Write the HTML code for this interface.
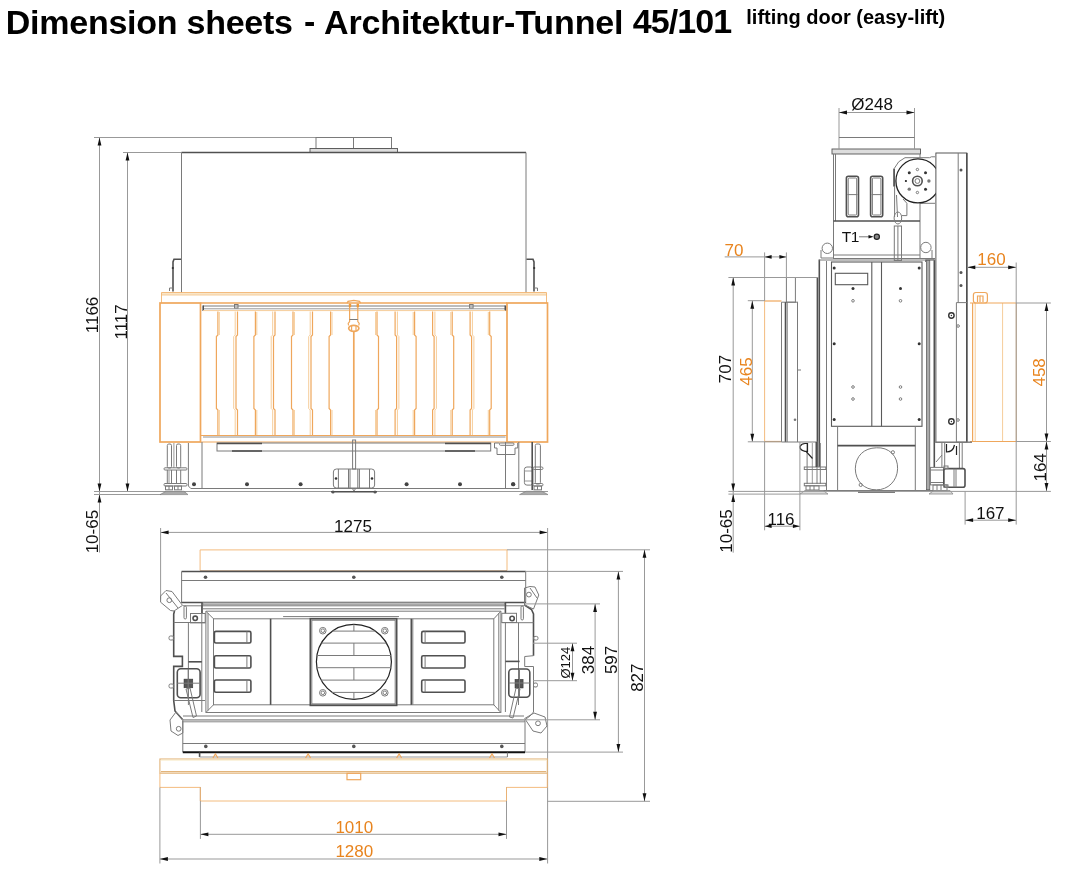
<!DOCTYPE html>
<html><head><meta charset="utf-8"><title>Dimension sheets</title>
<style>
html,body{margin:0;padding:0;background:#fff;}
body{width:1070px;height:879px;position:relative;overflow:hidden;font-family:"Liberation Sans",sans-serif;}
svg{position:absolute;left:0;top:0;will-change:transform;}
.o{fill:none;stroke:#7a7a7a;stroke-width:1;}
.p{fill:none;stroke:#5a5a5a;stroke-width:1.1;}
.mot{fill:#fff;stroke:#222;stroke-width:1.3;}
.scr{fill:#888;stroke:#222;stroke-width:1.2;}
.scr2{fill:#fff;stroke:#333;stroke-width:1.4;}
.wf{fill:#fff;stroke:#444;stroke-width:0.9;}
.t{fill:none;stroke:#505050;stroke-width:1.6;}
.t2{fill:none;stroke:#222;stroke-width:1.2;}
.t3{fill:none;stroke:#111;stroke-width:2;}
.d{fill:none;stroke:#999;stroke-width:1;}
.g{fill:#fff;stroke:#777;stroke-width:0.8;}
.fl{fill:#ddd;stroke:#555;stroke-width:0.9;}
.gf{fill:#bbb;stroke:#888;stroke-width:0.6;}
.gbar{fill:#aaa;stroke:#555;stroke-width:0.7;}
.gf2{fill:#eee;stroke:#aaa;stroke-width:0.6;}
.blk{fill:#555;stroke:#333;stroke-width:0.5;}
.ft{fill:#aaa;stroke:#777;stroke-width:0.6;}
.ft2{fill:#ddd;stroke:#888;stroke-width:0.8;}
.or{fill:none;stroke:#EFA75C;stroke-width:1.2;}
.or2{fill:none;stroke:#EFA75C;stroke-width:1.7;}
.or3{fill:none;stroke:#9a6a3a;stroke-width:1.2;}
.orl{fill:none;stroke:#F6CD9A;stroke-width:1;}
.orl2{fill:none;stroke:#F2B470;stroke-width:0.9;}
.ort{fill:none;stroke:#E2B47A;stroke-width:1.1;}
.ortf{fill:#F8ECC8;stroke:none;}
.orfill{fill:#EE9A3A;stroke:none;}
.orf{fill:#F9E6C8;stroke:none;}
text{font-family:"Liberation Sans",sans-serif;}
.tx{fill:#111;}
.tt{fill:#000;}
.tx2{font-size:15.5px;fill:#111;}
.txo{fill:#E8841E;}
</style></head>
<body>
<svg width="1070" height="879" viewBox="0 0 1070 879">
<text x="149.28" y="33.65" class="tt" font-size="34" text-anchor="middle" font-weight="bold" letter-spacing="-0.25">Dimension sheets</text>
<text x="309.7" y="33.4" class="tt" font-size="34" text-anchor="middle" font-weight="bold">-</text>
<text x="473.7" y="33.65" class="tt" font-size="34" text-anchor="middle" font-weight="bold" letter-spacing="-0.12">Architektur-Tunnel</text>
<text x="682" y="33.15" class="tt" font-size="34" text-anchor="middle" font-weight="bold" letter-spacing="-0.9">45/101</text>
<text x="845.75" y="24" class="tt" font-size="20" text-anchor="middle" font-weight="bold">lifting door (easy-lift)</text>
<line x1="94" y1="137.5" x2="316" y2="137.5" class="d"/>
<line x1="123" y1="152.5" x2="181.5" y2="152.5" class="d"/>
<line x1="99.5" y1="137.5" x2="99.5" y2="552.5" class="d"/>
<polygon points="99.5,137.5 97.6,145.5 101.4,145.5" fill="#111"/>
<polygon points="99.5,491.5 97.6,483.5 101.4,483.5" fill="#111"/>
<polygon points="99.5,494.5 97.6,502.5 101.4,502.5" fill="#111"/>
<line x1="127.5" y1="152.5" x2="127.5" y2="491.5" class="d"/>
<polygon points="127.5,152.5 125.6,160.5 129.4,160.5" fill="#111"/>
<polygon points="127.5,491.5 125.6,483.5 129.4,483.5" fill="#111"/>
<line x1="94" y1="491.5" x2="200" y2="491.5" class="d"/>
<line x1="94" y1="494.5" x2="161" y2="494.5" class="d"/>
<text x="0" y="0" class="tx" font-size="17" text-anchor="middle" transform="translate(98.2,314.95) rotate(-90)">1166</text>
<text x="0" y="0" class="tx" font-size="17" text-anchor="middle" transform="translate(127,321.9) rotate(-90)">1117</text>
<text x="0" y="0" class="tx" font-size="17" text-anchor="middle" transform="translate(98.2,531.6) rotate(-90)">10-65</text>
<rect x="316" y="137.5" width="75.5" height="11" class="o"/>
<line x1="353.5" y1="137.5" x2="353.5" y2="148.5" class="o"/>
<rect x="310" y="148.5" width="87.5" height="4" class="fl"/>
<line x1="181.5" y1="152.5" x2="526" y2="152.5" class="t"/>
<line x1="181.5" y1="152.5" x2="181.5" y2="292.5" class="o"/>
<line x1="526" y1="152.5" x2="526" y2="292.5" class="o"/>
<polyline points="181,259.3 174,259.3 173,262 173,291.5" class="t"/>
<polyline points="526.5,259.3 533,259.3 534,262 534,291.5" class="t"/>
<polyline points="173,288 169.5,288 169.5,291" class="o"/>
<polyline points="534,288 537.5,288 537.5,291" class="o"/>
<circle cx="172.8" cy="268" r="1.1" fill="#333"/>
<circle cx="534.2" cy="268" r="1.1" fill="#333"/>
<rect x="161.5" y="292.8" width="385" height="2.2" class="orf"/>
<line x1="161.5" y1="295" x2="546.5" y2="295" class="orl"/>
<line x1="161.5" y1="292.5" x2="546.5" y2="292.5" class="orl2"/>
<line x1="161.5" y1="292.5" x2="161.5" y2="303" class="orl2"/>
<line x1="546.5" y1="292.5" x2="546.5" y2="303" class="orl2"/>
<rect x="160" y="303" width="40.5" height="139" class="or2"/>
<rect x="507" y="303" width="40.5" height="139" class="or2"/>
<line x1="200.5" y1="303" x2="507" y2="303" class="or2"/>
<line x1="203" y1="306" x2="505.5" y2="306" class="o"/>
<line x1="203" y1="308.8" x2="505.5" y2="308.8" class="d"/>
<line x1="203.2" y1="305.5" x2="203.2" y2="311" class="t"/>
<line x1="505.3" y1="305.5" x2="505.3" y2="311" class="t"/>
<rect x="234.5" y="304.5" width="3.5" height="3.5" class="o"/>
<rect x="469.6" y="304.5" width="3.5" height="3.5" class="o"/>
<line x1="203" y1="310.6" x2="505.5" y2="310.6" class="orl"/>
<line x1="200.5" y1="435.5" x2="507" y2="435.5" class="or"/>
<line x1="203" y1="437" x2="505.5" y2="437" class="g"/>
<line x1="200.5" y1="442" x2="507" y2="442" class="or"/>
<polyline points="217.9,311.5 217.9,335 216.4,336.5 216.4,408.5 217.9,410 217.9,435" class="or"/>
<line x1="219.3" y1="312" x2="219.3" y2="335" class="orl"/>
<line x1="219.3" y1="410" x2="219.3" y2="435" class="orl"/>
<polyline points="489.7,311.5 489.7,335 491.2,336.5 491.2,408.5 489.7,410 489.7,435" class="or"/>
<line x1="488.3" y1="312" x2="488.3" y2="335" class="orl"/>
<line x1="488.3" y1="410" x2="488.3" y2="435" class="orl"/>
<polyline points="255.4,311.5 255.4,335 253.9,336.5 253.9,408.5 255.4,410 255.4,435" class="or"/>
<line x1="256.8" y1="312" x2="256.8" y2="335" class="orl"/>
<line x1="256.8" y1="410" x2="256.8" y2="435" class="orl"/>
<polyline points="452.2,311.5 452.2,335 453.7,336.5 453.7,408.5 452.2,410 452.2,435" class="or"/>
<line x1="450.8" y1="312" x2="450.8" y2="335" class="orl"/>
<line x1="450.8" y1="410" x2="450.8" y2="435" class="orl"/>
<polyline points="293,311.5 293,335 291.5,336.5 291.5,408.5 293,410 293,435" class="or"/>
<line x1="294.4" y1="312" x2="294.4" y2="335" class="orl"/>
<line x1="294.4" y1="410" x2="294.4" y2="435" class="orl"/>
<polyline points="414.6,311.5 414.6,335 416.1,336.5 416.1,408.5 414.6,410 414.6,435" class="or"/>
<line x1="413.2" y1="312" x2="413.2" y2="335" class="orl"/>
<line x1="413.2" y1="410" x2="413.2" y2="435" class="orl"/>
<polyline points="330.6,311.5 330.6,335 329.1,336.5 329.1,408.5 330.6,410 330.6,435" class="or"/>
<line x1="332" y1="312" x2="332" y2="335" class="orl"/>
<line x1="332" y1="410" x2="332" y2="435" class="orl"/>
<polyline points="377,311.5 377,335 378.5,336.5 378.5,408.5 377,410 377,435" class="or"/>
<line x1="375.6" y1="312" x2="375.6" y2="335" class="orl"/>
<line x1="375.6" y1="410" x2="375.6" y2="435" class="orl"/>
<polyline points="237.5,311.5 237.5,335 236,336.5 236,408.5 237.5,410 237.5,435" class="or"/>
<polyline points="235.2,311.5 235.2,335 233.7,336.5 233.7,408.5 235.2,410 235.2,435" class="orl"/>
<polyline points="470.1,311.5 470.1,335 471.6,336.5 471.6,408.5 470.1,410 470.1,435" class="or"/>
<polyline points="472.4,311.5 472.4,335 473.9,336.5 473.9,408.5 472.4,410 472.4,435" class="orl"/>
<polyline points="275,311.5 275,335 273.5,336.5 273.5,408.5 275,410 275,435" class="or"/>
<polyline points="272.7,311.5 272.7,335 271.2,336.5 271.2,408.5 272.7,410 272.7,435" class="orl"/>
<polyline points="432.6,311.5 432.6,335 434.1,336.5 434.1,408.5 432.6,410 432.6,435" class="or"/>
<polyline points="434.9,311.5 434.9,335 436.4,336.5 436.4,408.5 434.9,410 434.9,435" class="orl"/>
<polyline points="312.5,311.5 312.5,335 311,336.5 311,408.5 312.5,410 312.5,435" class="or"/>
<polyline points="310.2,311.5 310.2,335 308.7,336.5 308.7,408.5 310.2,410 310.2,435" class="orl"/>
<polyline points="395.1,311.5 395.1,335 396.6,336.5 396.6,408.5 395.1,410 395.1,435" class="or"/>
<polyline points="397.4,311.5 397.4,335 398.9,336.5 398.9,408.5 397.4,410 397.4,435" class="orl"/>
<line x1="353.8" y1="331" x2="353.8" y2="435.5" class="or2"/>
<polyline points="349.6,303.5 349.6,321.5 348.2,323.5 348.6,325.5" class="or"/>
<polyline points="357.8,303.5 357.8,321.5 359.2,323.5 358.8,325.5" class="or"/>
<line x1="349.6" y1="319.5" x2="357.8" y2="319.5" class="o"/>
<rect x="348.8" y="303.8" width="2.4" height="3.4" class="orfill"/>
<rect x="356.6" y="303.8" width="2.4" height="3.4" class="orfill"/>
<ellipse cx="353.8" cy="328.3" rx="5.1" ry="3.0" class="or2"/>
<line x1="351.6" y1="326" x2="351.6" y2="330.6" class="or"/>
<line x1="356" y1="326" x2="356" y2="330.6" class="or"/>
<polyline points="347,303.2 348,301.3 353.8,300.3 359.6,301.3 360.6,303.2" class="or"/>
<rect x="217" y="443" width="273.7" height="8" class="o"/>
<line x1="217" y1="443.5" x2="262" y2="443.5" class="t"/>
<line x1="445" y1="443.5" x2="490.7" y2="443.5" class="t"/>
<line x1="232" y1="451" x2="262" y2="451" class="t"/>
<line x1="445" y1="451" x2="475" y2="451" class="t"/>
<line x1="202" y1="442" x2="202" y2="489" class="o"/>
<line x1="505.5" y1="442" x2="505.5" y2="489" class="o"/>
<line x1="518.8" y1="442" x2="518.8" y2="489" class="o"/>
<polyline points="494.5,443 494.5,448 497,448 497,454.5 515,454.5 515,448 517.7,448 517.7,443" class="o"/>
<line x1="202" y1="488.5" x2="519" y2="488.5" class="o"/>
<line x1="160" y1="491.5" x2="548" y2="491.5" class="d"/>
<circle cx="194" cy="484.3" r="2" fill="#444"/>
<circle cx="247" cy="484.3" r="2" fill="#444"/>
<circle cx="300.6" cy="484.3" r="2" fill="#444"/>
<circle cx="406.6" cy="484.3" r="2" fill="#444"/>
<circle cx="460" cy="484.3" r="2" fill="#444"/>
<circle cx="513" cy="484.3" r="2" fill="#444"/>
<rect x="352.6" y="440" width="3" height="29" class="o"/>
<rect x="333.4" y="469" width="41.2" height="19" class="o" rx="3"/>
<line x1="338.4" y1="469" x2="338.4" y2="488" class="o"/>
<line x1="348.5" y1="469" x2="348.5" y2="488" class="o"/>
<line x1="350" y1="469" x2="350" y2="488" class="o"/>
<line x1="357.8" y1="469" x2="357.8" y2="488" class="o"/>
<line x1="359.4" y1="469" x2="359.4" y2="488" class="o"/>
<line x1="369.5" y1="469" x2="369.5" y2="488" class="o"/>
<circle cx="336" cy="478.5" r="1.3" fill="#333"/>
<circle cx="372" cy="478.5" r="1.3" fill="#333"/>
<line x1="331" y1="491.8" x2="377" y2="491.8" class="t"/>
<circle cx="333" cy="492" r="1.5" fill="#555"/>
<circle cx="375" cy="492" r="1.5" fill="#555"/>
<polyline points="352,488 354,491 356,488" class="o"/>
<rect x="167.3" y="444" width="4.2" height="24" class="o" rx="1.5"/>
<rect x="176.5" y="444" width="4.2" height="24" class="o" rx="1.5"/>
<line x1="173.9" y1="443" x2="173.9" y2="468" class="d"/>
<line x1="167.3" y1="470" x2="167.3" y2="483.3" class="o"/>
<line x1="171.5" y1="470" x2="171.5" y2="483.3" class="o"/>
<line x1="176.5" y1="470" x2="176.5" y2="483.3" class="o"/>
<line x1="180.7" y1="470" x2="180.7" y2="483.3" class="o"/>
<line x1="169" y1="470.5" x2="169" y2="483" class="d"/>
<rect x="164" y="467.8" width="23" height="2.2" class="o" rx="1"/>
<rect x="164" y="483.5" width="23" height="2.5" class="o" rx="1"/>
<rect x="165.5" y="486" width="7" height="3.8" class="o"/>
<rect x="174.5" y="486" width="7" height="3.8" class="o"/>
<line x1="169" y1="486" x2="169" y2="489.8" class="o"/>
<line x1="178" y1="486" x2="178" y2="489.8" class="o"/>
<polygon points="160,494.6 166,491.3 184,491.3 188,494.6" class="ft"/>
<polyline points="188.4,443 188.4,486 190.8,488.5 202,488.5" class="o"/>
<polyline points="494.5,443 499.5,443" class="o"/>
<rect x="499.5" y="443" width="14.5" height="2.3" class="o" rx="1"/>
<rect x="524.4" y="467" width="8.6" height="18.1" class="o" rx="2.5"/>
<line x1="524.4" y1="471" x2="533" y2="471" class="d"/>
<line x1="524.4" y1="481" x2="533" y2="481" class="d"/>
<line x1="532.2" y1="442" x2="532.2" y2="490" class="t"/>
<rect x="535.3" y="444" width="5.1" height="40" class="o" rx="1.5"/>
<rect x="533" y="467" width="10" height="2.5" class="o" rx="1.2"/>
<rect x="533" y="483.5" width="10" height="2.5" class="o" rx="1.2"/>
<rect x="534" y="486" width="7.5" height="3.8" class="o"/>
<line x1="537.5" y1="486" x2="537.5" y2="489.8" class="o"/>
<polygon points="519.5,494.6 526,491.3 542,491.3 548,494.6" class="ft"/>
<circle cx="513.3" cy="484.3" r="2" fill="#444"/>
<line x1="839" y1="108" x2="839" y2="148.5" class="d"/>
<line x1="914.5" y1="108" x2="914.5" y2="148.5" class="d"/>
<line x1="839" y1="112.5" x2="914.5" y2="112.5" class="d"/>
<polygon points="839,112.5 847,110.6 847,114.4" fill="#111"/>
<polygon points="914.5,112.5 906.5,110.6 906.5,114.4" fill="#111"/>
<text x="872.15" y="110.1" class="tx" font-size="17" text-anchor="middle">Ø248</text>
<line x1="839" y1="137.5" x2="914.5" y2="137.5" class="o"/>
<rect x="832" y="149" width="88.5" height="5" class="fl"/>
<line x1="833.5" y1="154" x2="833.5" y2="259" class="o"/>
<line x1="835.5" y1="154" x2="835.5" y2="221" class="o"/>
<line x1="920" y1="154" x2="920" y2="158" class="o"/>
<line x1="920" y1="203" x2="920" y2="259" class="o"/>
<line x1="833.5" y1="221" x2="920" y2="221" class="t"/>
<line x1="833.5" y1="255" x2="920" y2="255" class="o"/>
<line x1="833.5" y1="258.5" x2="935" y2="258.5" class="o"/>
<rect x="846.4" y="176.3" width="12.1" height="40.4" class="t" rx="2"/>
<rect x="848.2" y="178" width="8.5" height="37" class="o" rx="1"/>
<line x1="847.4" y1="194.6" x2="857.5" y2="194.6" class="o"/>
<rect x="870.6" y="176.3" width="12.1" height="40.4" class="t" rx="2"/>
<rect x="872.4" y="178" width="8.5" height="37" class="o" rx="1"/>
<line x1="871.6" y1="194.6" x2="881.7" y2="194.6" class="o"/>
<polyline points="894.1,186.4 894.1,168.7 898.7,161.8 905,157.7 929.6,157.7 931.4,156.8 935,156.8" class="o"/>
<line x1="894.1" y1="168.7" x2="894.1" y2="186.4" class="t"/>
<line x1="894.6" y1="186" x2="894.6" y2="217" class="o"/>
<line x1="896.5" y1="195" x2="897.5" y2="217" class="o"/>
<polyline points="903,199 906.9,203.3 906.9,215.6 901.5,215.6" class="o"/>
<line x1="920" y1="203.3" x2="935" y2="203.3" class="o"/>
<circle cx="917.9" cy="180.9" r="22" class="mot"/>
<circle cx="917.4" cy="181" r="4.8" class="t"/>
<circle cx="917.4" cy="181" r="2.4" class="o"/>
<circle cx="928.9" cy="181" r="1.7" fill="#777"/>
<circle cx="925.53" cy="189.13" r="1.5" fill="#333"/>
<circle cx="917.4" cy="192.5" r="1.2" class="o"/>
<circle cx="909.27" cy="189.13" r="1.7" fill="#777"/>
<circle cx="905.9" cy="181" r="1.1" fill="#222"/>
<circle cx="909.27" cy="172.87" r="1.5" fill="#333"/>
<circle cx="917.4" cy="169.5" r="1.2" class="o"/>
<circle cx="925.53" cy="172.87" r="1.5" fill="#333"/>
<text x="850.3" y="241.6" class="tx" font-size="15.5" text-anchor="middle" letter-spacing="-0.6">T1</text>
<line x1="859" y1="236.8" x2="870" y2="236.8" class="o"/>
<polygon points="873.5,236.8 868.5,235 868.5,238.6" fill="#111"/>
<circle cx="876.8" cy="236.8" r="2.6" class="scr"/>
<rect x="894.3" y="226" width="7.2" height="34.5" class="o"/>
<line x1="897.9" y1="226" x2="897.9" y2="260.5" class="o"/>
<ellipse cx="897.9" cy="218" rx="3.8" ry="6" class="o"/>
<circle cx="827.3" cy="248.3" r="5.2" class="o"/>
<polyline points="821,250 821,258 833,258" class="o"/>
<circle cx="925.9" cy="247.5" r="5.2" class="o"/>
<polyline points="932,250 932,258" class="o"/>
<rect x="935.9" y="153" width="30.9" height="289.2" class="wf"/>
<line x1="934.3" y1="259.6" x2="934.3" y2="467" class="t"/>
<line x1="966.8" y1="153" x2="966.8" y2="442.2" class="t"/>
<line x1="958.2" y1="153" x2="958.2" y2="302.5" class="o"/>
<circle cx="961" cy="170" r="1.5" fill="#555"/>
<circle cx="961" cy="272.4" r="1.5" fill="#555"/>
<circle cx="961" cy="285.4" r="1.5" fill="#555"/>
<line x1="817.4" y1="277" x2="817.4" y2="467" class="t"/>
<line x1="819.3" y1="259.5" x2="819.3" y2="467" class="t"/>
<line x1="826.5" y1="261" x2="826.5" y2="491" class="o"/>
<line x1="819.3" y1="260" x2="934.8" y2="260" class="o"/>
<rect x="926.4" y="260.5" width="3.4" height="229.2" class="gbar"/>
<polyline points="925.5,262 925.5,259.8 934,259.8" class="o"/>
<rect x="831.5" y="262" width="90.5" height="164.3" class="p"/>
<line x1="871.8" y1="262" x2="871.8" y2="426.3" class="p"/>
<line x1="881.5" y1="262" x2="881.5" y2="426.3" class="p"/>
<rect x="835.3" y="273.3" width="32.4" height="11.4" class="p"/>
<circle cx="834.2" cy="268" r="1.5" fill="#333"/>
<circle cx="919.2" cy="268" r="1.5" fill="#333"/>
<circle cx="853" cy="288.6" r="1.5" fill="#333"/>
<circle cx="900.5" cy="288.6" r="1.5" fill="#333"/>
<circle cx="834.2" cy="343.8" r="1.5" fill="#333"/>
<circle cx="919.2" cy="343.8" r="1.5" fill="#333"/>
<circle cx="834.2" cy="419.5" r="1.5" fill="#333"/>
<circle cx="919.2" cy="419.5" r="1.5" fill="#333"/>
<circle cx="853" cy="300.8" r="1.3" class="o"/>
<circle cx="900.5" cy="300.8" r="1.3" class="o"/>
<circle cx="853" cy="387" r="1.3" class="o"/>
<circle cx="900.5" cy="387" r="1.3" class="o"/>
<circle cx="853" cy="399" r="1.3" class="o"/>
<circle cx="900.5" cy="399" r="1.3" class="o"/>
<line x1="837.6" y1="426.3" x2="837.6" y2="491" class="o"/>
<line x1="915.3" y1="426.3" x2="915.3" y2="491" class="o"/>
<line x1="837.6" y1="445.6" x2="915.3" y2="445.6" class="t"/>
<path d="M876.4,447.8 C889,447 898,456 897.6,468.8 C897.2,481 888,490 876.4,489.8 C864,490 855.5,481 855.3,468.8 C855.5,456 864,448 876.4,447.8 Z" class="o"/>
<circle cx="892.9" cy="452.3" r="1.6" class="o"/>
<circle cx="860.7" cy="484.9" r="1.6" class="o"/>
<line x1="819" y1="490.5" x2="935" y2="490.5" class="o"/>
<line x1="858" y1="492" x2="895" y2="492" class="t"/>
<line x1="764.6" y1="301" x2="764.6" y2="441.8" class="orl2"/>
<line x1="764.6" y1="301" x2="781.5" y2="301" class="or"/>
<line x1="764.6" y1="441.5" x2="781.5" y2="441.5" class="or"/>
<rect x="786.4" y="277.5" width="9" height="24.7" class="o"/>
<line x1="781.5" y1="302.2" x2="798" y2="302.2" class="o"/>
<line x1="781.5" y1="302.2" x2="781.5" y2="442" class="o"/>
<line x1="785.5" y1="302.2" x2="785.5" y2="442" class="t"/>
<line x1="787.2" y1="302.2" x2="787.2" y2="442" class="o"/>
<line x1="797.5" y1="302.2" x2="797.5" y2="442" class="o"/>
<line x1="781.5" y1="442" x2="818" y2="442" class="o"/>
<circle cx="795" cy="419.7" r="1.3" fill="#777"/>
<line x1="797.5" y1="370" x2="801" y2="370" class="o"/>
<line x1="807.1" y1="443" x2="807.1" y2="484" class="o"/>
<line x1="817" y1="443" x2="817" y2="484" class="o"/>
<line x1="820.3" y1="443" x2="820.3" y2="484" class="o"/>
<line x1="812.3" y1="443" x2="812.3" y2="484" class="d"/>
<rect x="804.3" y="467" width="21.5" height="2.5" class="o"/>
<rect x="804.3" y="483.3" width="21.5" height="2.5" class="o"/>
<rect x="806" y="485.8" width="13" height="4.2" class="o"/>
<line x1="810" y1="485.8" x2="810" y2="490" class="o"/>
<line x1="814" y1="485.8" x2="814" y2="490" class="o"/>
<polygon points="800,494 805,490.5 823,490.5 828,494" class="ft2"/>
<path d="M807.5,443.5 L807.5,451.3 L805,451.3 Q799.5,450 800,446.5 Q801.5,443.5 805,443.5 Z M806,451.3 L812.5,458.5" class="t2"/>
<line x1="816.3" y1="442" x2="816.3" y2="467" class="t"/>
<line x1="972.6" y1="303" x2="972.6" y2="441.5" class="or"/>
<line x1="975.2" y1="303" x2="975.2" y2="441.5" class="orl"/>
<line x1="1002.6" y1="303" x2="1002.6" y2="441.5" class="orl"/>
<line x1="1016.3" y1="303" x2="1016.3" y2="441.5" class="orl2"/>
<line x1="970" y1="303" x2="1016.3" y2="303" class="or"/>
<line x1="970" y1="441.5" x2="1016.3" y2="441.5" class="or"/>
<rect x="973.4" y="292.5" width="14" height="10.5" class="or" rx="2.5"/>
<polyline points="977.5,302 977.5,296 980,296 980,302" class="or"/>
<polyline points="980,296 983,296 983,302" class="or"/>
<line x1="956.4" y1="302.6" x2="956.4" y2="442.2" class="o"/>
<line x1="956.4" y1="302.6" x2="967.3" y2="302.6" class="o"/>
<line x1="956.4" y1="442.2" x2="972" y2="442.2" class="o"/>
<circle cx="951.4" cy="315.5" r="2.7" class="scr2"/>
<circle cx="951.4" cy="315.5" r="0.7" fill="#333"/>
<circle cx="951.4" cy="421.5" r="2.7" class="scr2"/>
<circle cx="951.4" cy="421.5" r="0.7" fill="#333"/>
<circle cx="958.1" cy="326" r="1.3" class="o"/>
<circle cx="958" cy="420" r="1.3" class="o"/>
<line x1="934.7" y1="442.2" x2="972" y2="442.2" class="o"/>
<line x1="941.9" y1="442.2" x2="941.9" y2="468" class="o"/>
<line x1="944.7" y1="442.2" x2="944.7" y2="468" class="o"/>
<line x1="959.4" y1="442.2" x2="959.4" y2="468" class="o"/>
<line x1="962.2" y1="442.2" x2="962.2" y2="468" class="o"/>
<rect x="930.4" y="467.4" width="13.1" height="17.5" class="o"/>
<line x1="930.4" y1="470" x2="943.5" y2="470" class="o"/>
<line x1="930.4" y1="482.5" x2="943.5" y2="482.5" class="o"/>
<rect x="943.9" y="468.6" width="21.1" height="18.7" class="t" rx="2"/>
<line x1="954" y1="468.6" x2="954" y2="487.3" class="o"/>
<line x1="956" y1="468.6" x2="956" y2="487.3" class="o"/>
<rect x="944" y="466" width="4" height="2.6" class="o"/>
<rect x="944" y="484.9" width="4" height="2.6" class="o"/>
<rect x="933" y="485" width="14" height="5.5" class="o"/>
<line x1="937" y1="485" x2="937" y2="490.5" class="o"/>
<line x1="941" y1="485" x2="941" y2="490.5" class="o"/>
<polygon points="929,494 934,490.5 950,490.5 953,494" class="ft2"/>
<path d="M946.5,444 L946.5,452 Q953,452 954.5,445" class="t2"/>
<line x1="956.5" y1="446" x2="956.5" y2="455" class="t2"/>
<line x1="936" y1="462" x2="942" y2="455" class="o"/>
<text x="734.05" y="256" class="txo" font-size="17" text-anchor="middle">70</text>
<line x1="724.7" y1="256.9" x2="786.4" y2="256.9" class="d"/>
<polygon points="764.6,256.9 771.6,255 771.6,258.8" fill="#111"/>
<polygon points="786.4,256.9 779.4,255 779.4,258.8" fill="#111"/>
<line x1="764.6" y1="252.4" x2="764.6" y2="301" class="d"/>
<line x1="786.4" y1="252.4" x2="786.4" y2="277.5" class="d"/>
<line x1="728.4" y1="277.5" x2="818" y2="277.5" class="d"/>
<line x1="733.2" y1="277.5" x2="733.2" y2="552.7" class="d"/>
<polygon points="733.2,277.5 731.3,285.5 735.1,285.5" fill="#111"/>
<polygon points="733.2,491.4 731.3,483.4 735.1,483.4" fill="#111"/>
<polygon points="733.2,494.1 731.3,502.1 735.1,502.1" fill="#111"/>
<text x="0" y="0" class="tx" font-size="17" text-anchor="middle" transform="translate(731.3,369.05) rotate(-90)">707</text>
<line x1="747.8" y1="300.7" x2="764.6" y2="300.7" class="d"/>
<line x1="752.3" y1="300.7" x2="752.3" y2="441.8" class="d"/>
<polygon points="752.3,300.7 750.4,308.7 754.2,308.7" fill="#111"/>
<polygon points="752.3,441.8 750.4,433.8 754.2,433.8" fill="#111"/>
<line x1="747.8" y1="441.8" x2="781.5" y2="441.8" class="d"/>
<text x="0" y="0" class="txo" font-size="17" text-anchor="middle" transform="translate(751.5,371.5) rotate(-90)">465</text>
<line x1="728.4" y1="491.4" x2="1050.9" y2="491.4" class="d"/>
<line x1="728.4" y1="494.1" x2="800" y2="494.1" class="d"/>
<text x="0" y="0" class="tx" font-size="17" text-anchor="middle" transform="translate(731.6,531) rotate(-90)">10-65</text>
<line x1="764.6" y1="441.8" x2="764.6" y2="530.3" class="d"/>
<line x1="799.9" y1="442" x2="799.9" y2="530.3" class="d"/>
<line x1="764.6" y1="526.2" x2="799.9" y2="526.2" class="d"/>
<polygon points="764.6,526.2 771.6,524.3 771.6,528.1" fill="#111"/>
<polygon points="799.9,526.2 792.9,524.3 792.9,528.1" fill="#111"/>
<text x="781" y="525.3" class="tx" font-size="17" text-anchor="middle">116</text>
<text x="991.45" y="265.3" class="txo" font-size="17" text-anchor="middle">160</text>
<line x1="967.3" y1="267.3" x2="1016.2" y2="267.3" class="d"/>
<polygon points="967.3,267.3 975.3,265.4 975.3,269.2" fill="#111"/>
<polygon points="1016.2,267.3 1008.2,265.4 1008.2,269.2" fill="#111"/>
<line x1="1016.2" y1="262.5" x2="1016.2" y2="524.6" class="d"/>
<line x1="1016" y1="303" x2="1050.9" y2="303" class="d"/>
<line x1="1016" y1="441.5" x2="1050.9" y2="441.5" class="d"/>
<line x1="1046.5" y1="303" x2="1046.5" y2="491.1" class="d"/>
<polygon points="1046.5,303 1044.6,311 1048.4,311" fill="#111"/>
<polygon points="1046.5,441.5 1044.6,433.5 1048.4,433.5" fill="#111"/>
<polygon points="1046.5,441.5 1044.6,449.5 1048.4,449.5" fill="#111"/>
<polygon points="1046.5,491.1 1044.6,483.1 1048.4,483.1" fill="#111"/>
<text x="0" y="0" class="txo" font-size="17" text-anchor="middle" transform="translate(1045.1,372.35) rotate(-90)">458</text>
<text x="0" y="0" class="tx" font-size="17" text-anchor="middle" transform="translate(1045.5,467.35) rotate(-90)">164</text>
<line x1="965.1" y1="491" x2="965.1" y2="524.6" class="d"/>
<line x1="965.1" y1="520.2" x2="1016.2" y2="520.2" class="d"/>
<polygon points="965.1,520.2 973.1,518.3 973.1,522.1" fill="#111"/>
<polygon points="1016.2,520.2 1008.2,518.3 1008.2,522.1" fill="#111"/>
<text x="990.4" y="519.3" class="tx" font-size="17" text-anchor="middle">167</text>
<line x1="160.6" y1="532.4" x2="547.6" y2="532.4" class="d"/>
<polygon points="160.6,532.4 168.6,530.5 168.6,534.3" fill="#111"/>
<polygon points="547.6,532.4 539.6,530.5 539.6,534.3" fill="#111"/>
<line x1="160.6" y1="528" x2="160.6" y2="599.5" class="d"/>
<line x1="547.6" y1="528" x2="547.6" y2="863.5" class="d"/>
<text x="352.95" y="531.7" class="tx" font-size="17" text-anchor="middle">1275</text>
<polyline points="200.1,570.5 200.1,549.9 507,549.9 507,570.5" class="orl2"/>
<line x1="200.1" y1="571" x2="507" y2="571" class="or3"/>
<line x1="181.6" y1="571.5" x2="525.7" y2="571.5" class="t"/>
<line x1="181.6" y1="571.5" x2="181.6" y2="603" class="o"/>
<line x1="525.7" y1="571.5" x2="525.7" y2="603" class="o"/>
<line x1="181.6" y1="580.5" x2="525.7" y2="580.5" class="o"/>
<circle cx="205.5" cy="577.3" r="1.8" fill="#555"/>
<circle cx="353.8" cy="577.3" r="1.8" fill="#555"/>
<circle cx="501.8" cy="577.3" r="1.8" fill="#555"/>
<line x1="181.6" y1="602.5" x2="525.7" y2="602.5" class="t"/>
<rect x="203" y="602.5" width="301.4" height="2.3" class="gf"/>
<line x1="183" y1="605.8" x2="524" y2="605.8" class="o"/>
<line x1="203" y1="608.8" x2="504.5" y2="608.8" class="o"/>
<polyline points="205.9,712.5 205.9,611.2 500.9,611.2 500.9,712.5" class="o"/>
<line x1="205.9" y1="712.5" x2="500.9" y2="712.5" class="o"/>
<rect x="213.5" y="618.8" width="280.3" height="86" class="o"/>
<line x1="205.9" y1="611.2" x2="213.5" y2="618.8" class="o"/>
<line x1="500.9" y1="611.2" x2="493.8" y2="618.8" class="o"/>
<line x1="205.9" y1="712.5" x2="213.5" y2="704.8" class="o"/>
<line x1="500.9" y1="712.5" x2="493.8" y2="704.8" class="o"/>
<line x1="208" y1="613" x2="208" y2="710.5" class="o"/>
<line x1="498.8" y1="613" x2="498.8" y2="710.5" class="o"/>
<line x1="270.6" y1="618.8" x2="270.6" y2="704.8" class="t"/>
<line x1="283.1" y1="616.6" x2="399" y2="616.6" class="o"/>
<line x1="411.3" y1="618.8" x2="411.3" y2="704.8" class="t"/>
<line x1="412.8" y1="618.8" x2="412.8" y2="704.8" class="o"/>
<rect x="310.3" y="618.7" width="86.4" height="86.7" class="t"/>
<rect x="311.8" y="620.2" width="83.4" height="83.7" class="o"/>
<circle cx="353.9" cy="661.8" r="37.5" class="t2"/>
<line x1="332.36" y1="631.1" x2="375.44" y2="631.1" class="o"/>
<line x1="321.4" y1="643.1" x2="386.4" y2="643.1" class="o"/>
<line x1="316.93" y1="655.5" x2="390.87" y2="655.5" class="o"/>
<line x1="316.87" y1="667.7" x2="390.93" y2="667.7" class="o"/>
<line x1="321.17" y1="680.1" x2="386.63" y2="680.1" class="o"/>
<line x1="332.22" y1="692.4" x2="375.58" y2="692.4" class="o"/>
<line x1="353.9" y1="624.3" x2="353.9" y2="631.1" class="o"/>
<line x1="353.9" y1="643.1" x2="353.9" y2="655.5" class="o"/>
<line x1="353.9" y1="667.7" x2="353.9" y2="680.1" class="o"/>
<line x1="353.9" y1="692.4" x2="353.9" y2="699.3" class="o"/>
<circle cx="322.8" cy="630.7" r="3.3" class="o"/>
<circle cx="322.8" cy="630.7" r="1.8" class="o"/>
<circle cx="384.8" cy="630.7" r="3.3" class="o"/>
<circle cx="384.8" cy="630.7" r="1.8" class="o"/>
<circle cx="322.8" cy="692.8" r="3.3" class="o"/>
<circle cx="322.8" cy="692.8" r="1.8" class="o"/>
<circle cx="384.8" cy="692.8" r="3.3" class="o"/>
<circle cx="384.8" cy="692.8" r="1.8" class="o"/>
<rect x="214.4" y="631.4" width="36.5" height="11.6" class="t" rx="1.5"/>
<line x1="246.9" y1="631.4" x2="246.9" y2="643" class="o"/>
<rect x="214.4" y="655.8" width="36.5" height="12.2" class="t" rx="1.5"/>
<line x1="246.9" y1="655.8" x2="246.9" y2="668" class="o"/>
<rect x="214.4" y="680" width="36.5" height="12.2" class="t" rx="1.5"/>
<line x1="246.9" y1="680" x2="246.9" y2="692.2" class="o"/>
<rect x="421.7" y="631.4" width="43.3" height="11.6" class="t" rx="1.5"/>
<line x1="425.1" y1="631.4" x2="425.1" y2="643" class="o"/>
<rect x="421.7" y="655.8" width="43.3" height="12.2" class="t" rx="1.5"/>
<line x1="425.1" y1="655.8" x2="425.1" y2="668" class="o"/>
<rect x="421.7" y="680" width="43.3" height="12.2" class="t" rx="1.5"/>
<line x1="425.1" y1="680" x2="425.1" y2="692.2" class="o"/>
<polyline points="174.5,611 173.7,614 173.7,656.4 182.4,656.4 182.4,666.4 173.7,666.4 173.7,700.5 175,711 182.5,719.5" class="t"/>
<line x1="173.7" y1="622.5" x2="205" y2="622.5" class="o"/>
<line x1="188.4" y1="622.5" x2="188.4" y2="705" class="o"/>
<line x1="201.8" y1="606" x2="201.8" y2="712" class="o"/>
<line x1="188.4" y1="661.8" x2="201.8" y2="661.8" class="t"/>
<line x1="173.7" y1="700.5" x2="205" y2="700.5" class="o"/>
<line x1="202" y1="603" x2="202" y2="613.3" class="t"/>
<rect x="190.5" y="613.5" width="14.7" height="9.4" class="o"/>
<circle cx="195.2" cy="618.3" r="2.2" class="t"/>
<rect x="184" y="606" width="2.4" height="13" rx="1.2" class="o"/>
<rect x="177.3" y="668.7" width="22.8" height="29.1" class="t" rx="3.5"/>
<rect x="184" y="679.1" width="8.8" height="8.7" class="blk"/>
<line x1="177.3" y1="683.2" x2="200.1" y2="683.2" class="o"/>
<line x1="188.2" y1="668.7" x2="188.2" y2="697.8" class="o"/>
<polygon points="186,689 193,717.5 196.5,716 190,688" class="o"/>
<rect x="169" y="636" width="4.7" height="4" class="o" rx="1.5"/>
<rect x="169" y="684" width="4.7" height="4" class="o" rx="1.5"/>
<polyline points="524.5,605 531.5,609.5 533.5,614 533.5,655.7" class="t"/>
<polyline points="533.5,655.7 524.7,656.5 524.7,666.5 533.5,666.5 533.5,712 530,716 524.7,720" class="o"/>
<line x1="501.8" y1="622.7" x2="533.5" y2="622.7" class="o"/>
<line x1="505.4" y1="603" x2="505.4" y2="613.3" class="t"/>
<line x1="505.4" y1="622.7" x2="505.4" y2="712" class="o"/>
<line x1="518.5" y1="622.7" x2="518.5" y2="705" class="o"/>
<line x1="505.4" y1="661.4" x2="519.6" y2="661.4" class="t"/>
<rect x="501.8" y="613.3" width="14.7" height="9.2" class="o"/>
<circle cx="512.1" cy="618.5" r="2.2" class="t"/>
<rect x="521" y="606" width="2.4" height="14" rx="1.2" class="o"/>
<rect x="508.8" y="669" width="21" height="28.2" class="t" rx="3.5"/>
<rect x="515" y="679.3" width="8.1" height="8.7" class="blk"/>
<line x1="508.8" y1="683" x2="529.8" y2="683" class="o"/>
<line x1="519.5" y1="669" x2="519.5" y2="697.2" class="o"/>
<polygon points="516,688 509.5,717 513,718 520,689" class="o"/>
<rect x="533.5" y="636.4" width="4.5" height="3.6" class="o" rx="1.5"/>
<rect x="533.5" y="683" width="4" height="4" class="o" rx="1.5"/>
<polygon points="160.6,596 166,590.5 172,591.5 182.5,605.4 174,611 170.5,610.5 160.6,602.2" class="o"/>
<circle cx="169.3" cy="600.2" r="2.4" class="o"/>
<line x1="166" y1="593" x2="178" y2="608" class="o"/>
<polygon points="524.5,588 530,586.5 535,587 538.8,595 533.5,609 524.5,605" class="o"/>
<circle cx="528.9" cy="594.6" r="2.4" class="o"/>
<line x1="530" y1="588" x2="537" y2="598" class="o"/>
<polygon points="170,720 176,712 182.8,719.5 182.8,733 178,735.5 171,731" class="o"/>
<circle cx="178.7" cy="728.8" r="2.4" class="o"/>
<polygon points="524.7,718.5 534,713 545,717 547,726 541,733 533,731" class="o"/>
<circle cx="538" cy="723.3" r="2.4" class="o"/>
<line x1="183" y1="716" x2="524" y2="716" class="o"/>
<rect x="183" y="719.5" width="341.5" height="2.5" class="gf"/>
<line x1="182.8" y1="720.8" x2="182.8" y2="752.2" class="o"/>
<line x1="525" y1="720.8" x2="525" y2="752.2" class="o"/>
<line x1="182.8" y1="743.5" x2="525" y2="743.5" class="o"/>
<line x1="182.8" y1="752.2" x2="525" y2="752.2" class="t3"/>
<circle cx="205.8" cy="746.4" r="1.8" fill="#555"/>
<circle cx="353.8" cy="746.4" r="1.8" fill="#555"/>
<circle cx="501.8" cy="746.4" r="1.8" fill="#555"/>
<line x1="199.6" y1="752.5" x2="199.6" y2="757" class="t"/>
<line x1="199.6" y1="757" x2="507.4" y2="757" class="d"/>
<line x1="507.4" y1="752.5" x2="507.4" y2="757" class="o"/>
<polyline points="212.9,758 215.4,754 217.9,758" class="or"/>
<polyline points="305.6,758 308.1,754 310.6,758" class="or"/>
<polyline points="396.6,758 399.1,754 401.6,758" class="or"/>
<polyline points="489.5,758 492,754 494.5,758" class="or"/>
<rect x="159.9" y="759" width="387.4" height="14.2" class="ort"/>
<rect x="161" y="759.6" width="385.2" height="1" class="ortf"/>
<line x1="161" y1="771.6" x2="546.2" y2="771.6" class="ort"/>
<rect x="347" y="773.3" width="13.7" height="6.4" class="or"/>
<polyline points="159.9,773.3 159.9,787.4 200.4,787.4 200.4,801 506.5,801 506.5,787.4 547.3,787.4 547.3,773.3" class="orl2"/>
<line x1="200.4" y1="787.4" x2="200.4" y2="838.9" class="d"/>
<line x1="506.5" y1="787.4" x2="506.5" y2="838.9" class="d"/>
<line x1="159.9" y1="787.4" x2="159.9" y2="863.5" class="d"/>
<line x1="200.4" y1="834.3" x2="506.5" y2="834.3" class="d"/>
<polygon points="200.4,834.3 208.4,832.4 208.4,836.2" fill="#111"/>
<polygon points="506.5,834.3 498.5,832.4 498.5,836.2" fill="#111"/>
<line x1="159.9" y1="859" x2="547.3" y2="859" class="d"/>
<polygon points="159.9,859 167.9,857.1 167.9,860.9" fill="#111"/>
<polygon points="547.3,859 539.3,857.1 539.3,860.9" fill="#111"/>
<text x="354.3" y="833.1" class="txo" font-size="17" text-anchor="middle">1010</text>
<text x="354.3" y="857.2" class="txo" font-size="17" text-anchor="middle">1280</text>
<line x1="200.4" y1="787.4" x2="200.4" y2="801" class="orl2"/>
<line x1="506.5" y1="787.4" x2="506.5" y2="801" class="orl2"/>
<line x1="507" y1="549.8" x2="650" y2="549.8" class="d"/>
<line x1="547.3" y1="801.3" x2="650" y2="801.3" class="d"/>
<line x1="644.5" y1="549.8" x2="644.5" y2="801.3" class="d"/>
<polygon points="644.5,549.8 642.6,557.8 646.4,557.8" fill="#111"/>
<polygon points="644.5,801.3 642.6,793.3 646.4,793.3" fill="#111"/>
<line x1="525.7" y1="571.4" x2="623" y2="571.4" class="d"/>
<line x1="525" y1="752.1" x2="623" y2="752.1" class="d"/>
<line x1="618.4" y1="571.4" x2="618.4" y2="752.1" class="d"/>
<polygon points="618.4,571.4 616.5,579.4 620.3,579.4" fill="#111"/>
<polygon points="618.4,752.1 616.5,744.1 620.3,744.1" fill="#111"/>
<line x1="525" y1="603.9" x2="600" y2="603.9" class="d"/>
<line x1="525" y1="719.8" x2="600" y2="719.8" class="d"/>
<line x1="595.1" y1="603.9" x2="595.1" y2="719.8" class="d"/>
<polygon points="595.1,603.9 593.2,611.9 597,611.9" fill="#111"/>
<polygon points="595.1,719.8 593.2,711.8 597,711.8" fill="#111"/>
<line x1="533" y1="643.2" x2="577" y2="643.2" class="d"/>
<line x1="533" y1="680.7" x2="577" y2="680.7" class="d"/>
<line x1="572.5" y1="643.2" x2="572.5" y2="680.7" class="d"/>
<polygon points="572.5,643.2 570.6,651.2 574.4,651.2" fill="#111"/>
<polygon points="572.5,680.7 570.6,672.7 574.4,672.7" fill="#111"/>
<text x="0" y="0" class="tx" font-size="17" text-anchor="middle" transform="translate(643.1,677.65) rotate(-90)">827</text>
<text x="0" y="0" class="tx" font-size="17" text-anchor="middle" transform="translate(616.8,659.9) rotate(-90)">597</text>
<text x="0" y="0" class="tx" font-size="17" text-anchor="middle" transform="translate(593.7,660.05) rotate(-90)">384</text>
<text x="0" y="0" class="tx" font-size="13" text-anchor="middle" transform="translate(570.3,662.65) rotate(-90)">Ø124</text>
</svg>
</body></html>
